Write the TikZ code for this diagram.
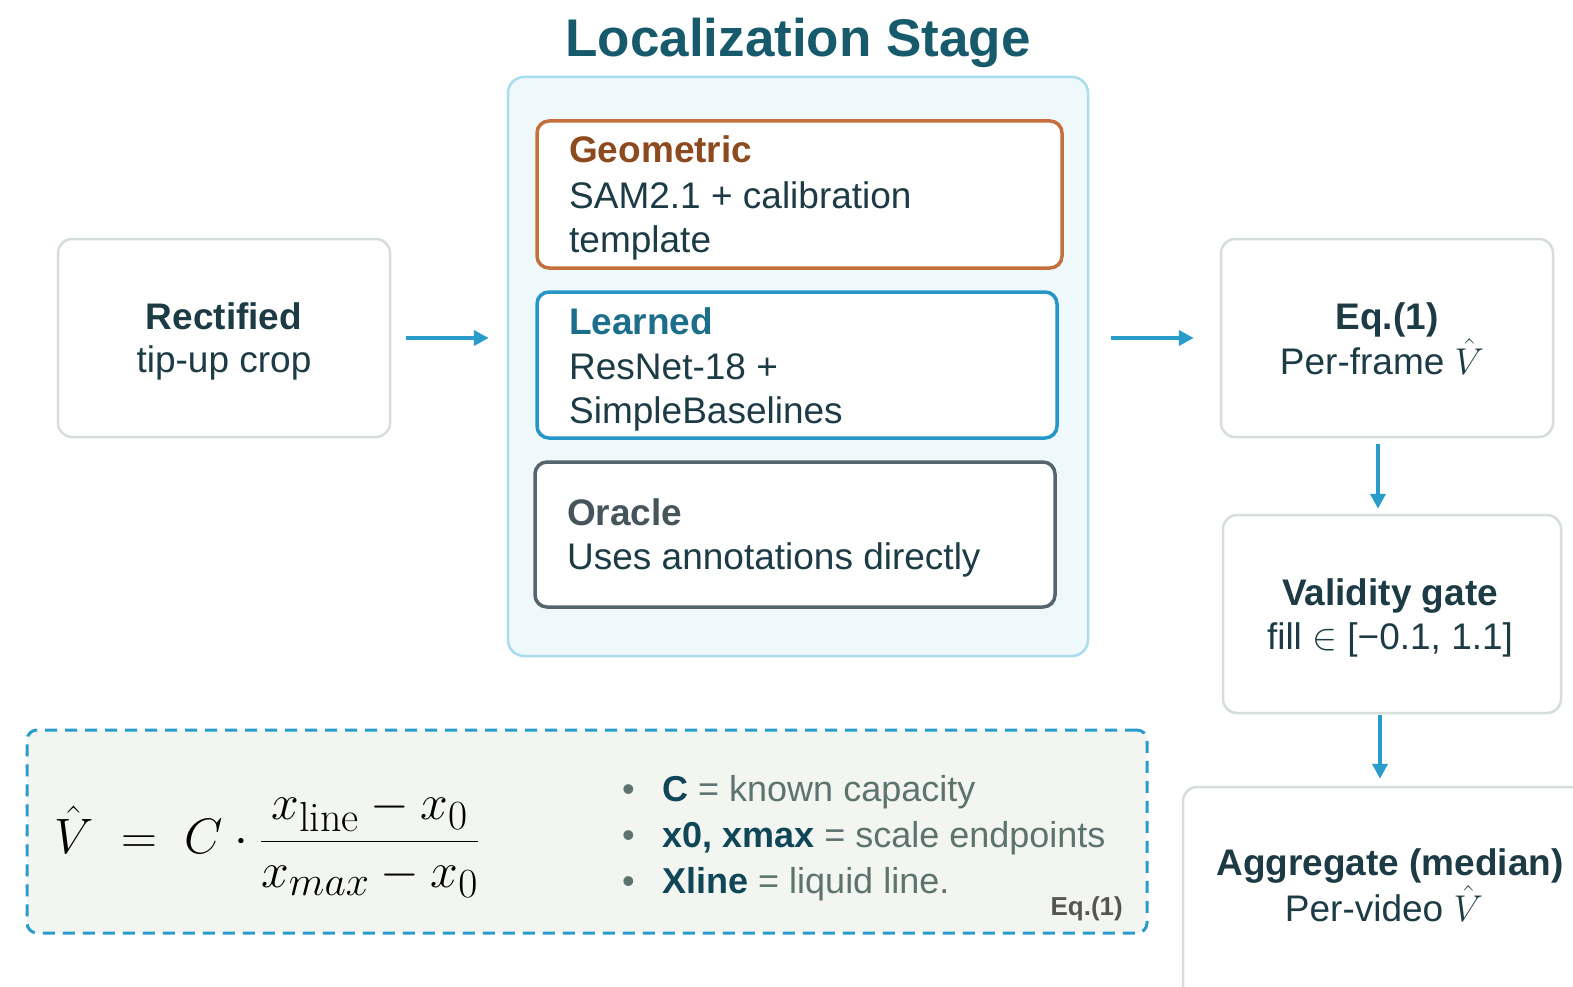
\documentclass[tikz,border=0pt]{standalone}
\usepackage{graphicx}
\usepackage{fontspec}
\setmainfont{Liberation Sans}
\newfontfamily\lmrfont{Latin Modern Roman}
\usetikzlibrary{arrows.meta}
\definecolor{titlecol}{HTML}{175A6C}
\definecolor{stagefill}{HTML}{EFF8FB}
\definecolor{stagedraw}{HTML}{A9DCEC}
\definecolor{geodraw}{HTML}{C4703C}
\definecolor{geotext}{HTML}{8C4A1E}
\definecolor{learndraw}{HTML}{2596C8}
\definecolor{learntext}{HTML}{1C6E8A}
\definecolor{oracledraw}{HTML}{56656D}
\definecolor{oracletext}{HTML}{46545C}
\definecolor{bodytext}{HTML}{1D3B45}
\definecolor{boxgray}{HTML}{D5DEDB}
\definecolor{arrowcol}{HTML}{2A9CCC}
\definecolor{notefill}{HTML}{F3F6F0}
\definecolor{bulbold}{HTML}{0F4759}
\definecolor{bulnorm}{HTML}{5D736F}
\definecolor{eqgray}{HTML}{555555}
\newcommand{\bigV}{\scalebox{1.5}{\fontsize{24.88}{30}\selectfont$\hat{V}$}}
\newcommand{\linesub}{\mbox{\fontsize{21}{22}\selectfont\lmrfont line}}
\begin{document}
\begin{tikzpicture}[x=1pt,y=-1pt,
  graybox/.style={draw=boxgray, line width=2.5pt, rounded corners=14pt, fill=white, inner sep=0pt},
  methodbox/.style={line width=3.5pt, rounded corners=12pt, fill=white, inner sep=0pt},
  txtl/.style={inner sep=0pt, anchor=base west, text=bodytext},
  txtc/.style={inner sep=0pt, anchor=base, text=bodytext},
  bodyfont/.style={font=\fontsize{37}{44}\selectfont},
  arr/.style={draw=arrowcol, line width=4pt, -{Triangle[length=15pt,width=15pt]}},
  bul/.style={inner sep=0pt, anchor=base west, text=bulnorm, font=\fontsize{36}{42}\selectfont}
]
\clip (0,0) rectangle (1573,987);
\fill[white] (0,0) rectangle (1573,987);

% title
\node[inner sep=0pt, anchor=base, text=titlecol, font=\fontsize{53}{60}\selectfont\bfseries] (title) at (798,57) {Localization Stage};

% stage container
\node[draw=stagedraw, fill=stagefill, line width=2.5pt, rounded corners=16pt, minimum width=580pt, minimum height=579pt, inner sep=0pt] (stage) at (798,366.5) {};

\node[methodbox, draw=geodraw, minimum width=525pt, minimum height=147pt] (geo) at (799.5,194.5) {};
\node[txtl, text=geotext, font=\fontsize{37}{44}\selectfont\bfseries] (geot) at (569,163) {Geometric};
\node[txtl, bodyfont] (geol1) at (569,208) {SAM2.1 + calibration};
\node[txtl, bodyfont] (geol2) at (569,252) {template};

\node[methodbox, draw=learndraw, minimum width=520pt, minimum height=146pt] (learn) at (797,365) {};
\node[txtl, text=learntext, font=\fontsize{37}{44}\selectfont\bfseries] (learnt) at (569,334) {Learned};
\node[txtl, bodyfont] (learnl1) at (569,379) {ResNet-18 +};
\node[txtl, bodyfont] (learnl2) at (569,423) {SimpleBaselines};

\node[methodbox, draw=oracledraw, minimum width=520pt, minimum height=145pt] (oracle) at (795,534.5) {};
\node[txtl, text=oracletext, font=\fontsize{37}{44}\selectfont\bfseries] (oraclet) at (567,525) {Oracle};
\node[txtl, bodyfont] (oraclel1) at (567,569) {Uses annotations directly};

% left box
\node[graybox, minimum width=332pt, minimum height=198pt] (rect) at (224,338) {};
\node[txtc, font=\fontsize{37}{44}\selectfont\bfseries] (rectt) at (224,329) {Rectified};
\node[txtc, bodyfont] (rectl) at (224,372) {tip-up crop};

% right column
\node[graybox, minimum width=332pt, minimum height=198pt] (eq) at (1387,338) {};
\node[txtc, font=\fontsize{37}{44}\selectfont\bfseries] (eqt) at (1387,329) {Eq.(1)};
\node[txtc, bodyfont] (eql) at (1382,374) {Per-frame \bigV};

\node[graybox, minimum width=338pt, minimum height=198pt] (val) at (1392,614) {};
\node[txtc, font=\fontsize{37}{44}\selectfont\bfseries] (valt) at (1390,605) {Validity gate};
\node[txtc, bodyfont] (vall) at (1390,649) {fill \scalebox{1.5}{\fontsize{24.88}{30}\selectfont$\in$} [−0.1, 1.1]};

\node[graybox, minimum width=422pt, minimum height=223pt] (agg) at (1394,898.5) {};
\node[txtc, font=\fontsize{37}{44}\selectfont\bfseries] (aggt) at (1390,875) {Aggregate (median)};
\node[txtc, bodyfont] (aggl) at (1384,921) {Per-video \bigV};

% arrows
\draw[arr, shorten <=15pt, shorten >=18pt] (rect.east) -- (rect.east -| stage.west);
\draw[arr, shorten <=22pt, shorten >=26pt] (stage.east |- eq.west) -- (eq.west);
\draw[arr, shorten <=6pt, shorten >=5pt] ([xshift=-9pt]eq.south) -- ([xshift=-9pt]eq.south |- val.north);
\draw[arr, shorten <=1pt, shorten >=7pt] ([xshift=-12pt]val.south) -- ([xshift=-12pt]val.south |- agg.north);

% note box
\node[draw=arrowcol, fill=notefill, dash pattern=on 12pt off 8pt, line width=3pt, rounded corners=10pt, minimum width=1120pt, minimum height=203pt, inner sep=0pt] (note) at (587,831.5) {};
\node[inner sep=0pt, anchor=west] (formula) at (54,844)
  {\scalebox{2}{\fontsize{24.88}{30}\selectfont$\displaystyle\hat{V}\;=\;C\cdot\frac{x_{\linesub}-x_0}{x_{max}-x_0}$}};
\node[bul] (b1) at (622,801) {\makebox[40pt][l]{•}\textcolor{bulbold}{\bfseries C} = known capacity};
\node[bul] (b2) at (622,847) {\makebox[40pt][l]{•}\textcolor{bulbold}{\bfseries x0, xmax} = scale endpoints};
\node[bul] (b3) at (622,893) {\makebox[40pt][l]{•}\textcolor{bulbold}{\bfseries Xline} = liquid line.};
\node[inner sep=0pt, anchor=base east, text=eqgray, font=\fontsize{26}{30}\selectfont\bfseries] (eqref) at (1123,915) {Eq.(1)};
\end{tikzpicture}
\end{document}
